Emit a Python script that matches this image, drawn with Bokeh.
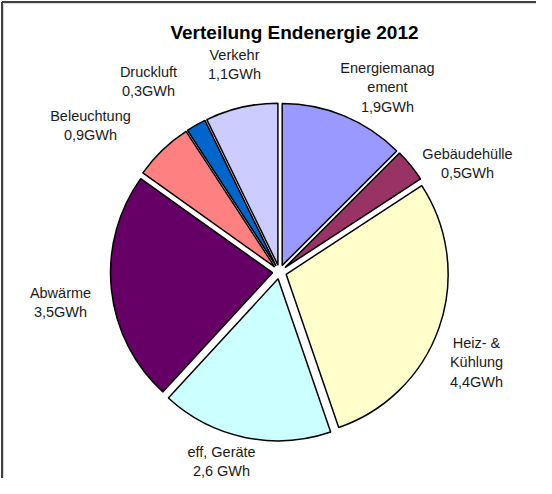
import numpy as np
from bokeh.plotting import figure
from bokeh.models import Range1d, ColumnDataSource
from bokeh.core.properties import value
from bokeh.embed import file_html
from bokeh.resources import INLINE

# ---- data ----
title = "Verteilung Endenergie 2012"
categories = ["Energiemanag\nement", "Gebäudehülle", "Heiz- &\nKühlung", "eff. Geräte",
              "Abwärme", "Beleuchtung", "Druckluft", "Verkehr"]
values = [1.9, 0.5, 4.4, 2.6, 3.5, 0.9, 0.3, 1.1]
units = ["GWh", "GWh", "GWh", " GWh", "GWh", "GWh", "GWh", "GWh"]
colors = ["#9999FF", "#993366", "#FFFFCC", "#CCFFFF", "#660066", "#FF8080", "#0066CC", "#CCCCFF"]

# ---- layout (reference page pixels) ----
W, H = 536, 478
CX, CY = 287, 279.5
R = 162
EXPLODE = 7
label_x = [395, 475, 484, 229, 68, 98, 156, 242]
label_y = [95, 171, 370, 469, 310, 133, 89, 72]

p = figure(width=W, height=H, output_backend="svg", toolbar_location=None,
           x_range=Range1d(8, 8 + W), y_range=Range1d(-(8 + H), -8),
           min_border=0, border_fill_color="white", background_fill_color="white")
p.axis.visible = False
p.grid.visible = False
p.outline_line_color = None

# frame (top and left edge)
p.segment(x0=[9.5], y0=[-9.5], x1=[8 + W], y1=[-9.5], line_color="#404040", line_width=2)
p.segment(x0=[9.5], y0=[-9.5], x1=[9.5], y1=[-(8 + H)], line_color="#404040", line_width=2)
p.segment(x0=[11], y0=[-11], x1=[8 + W], y1=[-11], line_color="#D8D8D8", line_width=1)
p.segment(x0=[11], y0=[-11], x1=[11], y1=[-(8 + H)], line_color="#D8D8D8", line_width=1)

vals = np.array(values)
frac = vals / vals.sum() * 360.0
ends = np.cumsum(frac)
starts = ends - frac
mids = (starts + ends) / 2

xs = CX + EXPLODE * np.sin(np.radians(mids))
ys = -CY + EXPLODE * np.cos(np.radians(mids))
start_ang = np.radians(90 - ends)
end_ang = np.radians(90 - starts)

src = ColumnDataSource(dict(x=xs, y=ys, s=start_ang, e=end_ang, c=colors))
p.wedge(x="x", y="y", radius=R, start_angle="s", end_angle="e", source=src,
        fill_color="c", line_color="black", line_width=1.5, direction="anticlock")

texts = [f"{c}\n{v:.1f}".replace(".", ",") + u for c, v, u in zip(categories, values, units)]
p.text(x=label_x, y=[-v for v in label_y], text=texts, text_align="center",
       text_baseline="middle", text_font=value("Liberation Sans"), text_font_size="14.5px",
       text_color="#1A1A1A", text_line_height=1.2)

p.text(x=[302], y=[-40], text=[title], text_align="center", text_baseline="middle",
       text_font=value("Liberation Sans"), text_font_size="19px", text_font_style="bold",
       text_color="black")

open("out.html", "w").write(file_html(p, INLINE))
